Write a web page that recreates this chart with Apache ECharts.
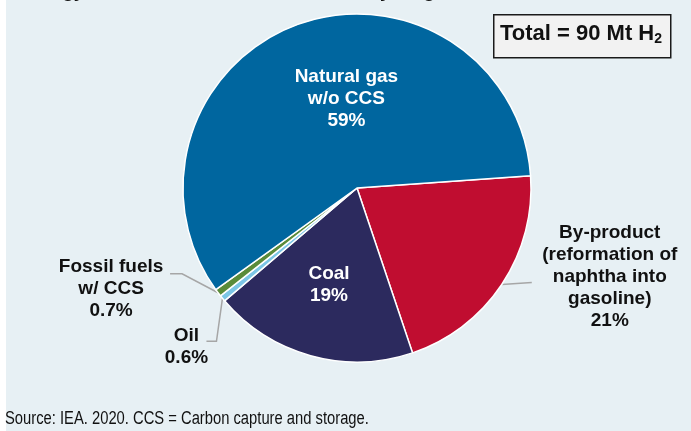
<!DOCTYPE html>
<html>
<head>
<meta charset="utf-8">
<script src="https://cdn.jsdelivr.net/npm/echarts@6/dist/echarts.min.js"></script>
<style>
  html, body { margin: 0; padding: 0; background: #fff; }
  #chart { width: 691px; height: 431px; }
</style>
</head>
<body>
<div id="chart"></div>
<script>
// data (share of 90 Mt H2)
const categories = ['By-product', 'Coal', 'Oil', 'Fossil fuels w/ CCS', 'Natural gas w/o CCS'];
const labelNames = ['By-product\n(reformation of\nnaphtha into\ngasoline)', 'Coal', 'Oil', 'Fossil fuels\nw/ CCS', 'Natural gas\nw/o CCS'];
const shares = [21, 19, 0.6, 0.7, 59];
const colors = ['#c00d30', '#2c2a5e', '#7cc6e6', '#5a8b3a', '#00669f'];
const insideLabels = ['Coal', 'Natural gas w/o CCS'];

var chartDom = document.getElementById('chart');
var myChart = echarts.init(chartDom, null, { renderer: 'canvas' });
var font = '"Liberation Sans", Arial, sans-serif';

var seriesData = [];
for (let i = 0; i < categories.length; i++) {
  var inside = insideLabels.indexOf(categories[i]) >= 0;
  seriesData.push({
    name: categories[i],
    value: shares[i],
    itemStyle: { color: colors[i] },
    label: {
      position: inside ? 'inside' : 'outside',
      color: inside ? '#ffffff' : '#111111'
    },
    labelLine: { show: !inside }
  });
}

// where the leader lines and outside labels sit, relative to the slice edge point
function placeLabel(params) {
  var name = categories[params.dataIndex];
  var pts = params.labelLinePoints;
  if (name === 'Natural gas w/o CCS') return { dx: 20, dy: -5 };
  if (name === 'Coal') return { dx: -4, dy: 10 };
  if (!pts) return {};
  var e = pts[0];
  if (name === 'By-product') {
    return {
      x: e[0] + 108, y: e[1] - 8, align: 'center', verticalAlign: 'middle',
      labelLinePoints: [e, [e[0] + 30, e[1] - 2], [e[0] + 30, e[1] - 2]]
    };
  }
  if (name === 'Fossil fuels w/ CCS') {
    return {
      x: e[0] - 107, y: e[1] - 4, align: 'center', verticalAlign: 'middle',
      labelLinePoints: [e, [e[0] - 36, e[1] - 19], [e[0] - 48, e[1] - 19]]
    };
  }
  if (name === 'Oil') {
    return {
      x: e[0] - 36, y: e[1] + 48, align: 'center', verticalAlign: 'middle',
      labelLinePoints: [e, [e[0] - 6, e[1] + 43], [e[0] - 16, e[1] + 43]]
    };
  }
  return {};
}

var option = {
  backgroundColor: '#e7f0f4',
  animation: false,
  graphic: [
    { type: 'rect', left: 0, top: 0, shape: { width: 6, height: 431 }, style: { fill: '#ffffff' }, z: 0 },
    {
      type: 'text', left: 20, top: -18,
      style: { text: 'Energy Sources of Annual Production by Origin', fill: '#111', font: 'bold 19px ' + font }
    },
    {
      type: 'rect', left: 493, top: 14,
      shape: { width: 177, height: 43 },
      style: { fill: '#f2f2f2', stroke: '#1a1a1a', lineWidth: 1.5 }
    },
    {
      type: 'text', left: 500, top: 23,
      style: {
        text: '{a|Total = 90 Mt H}{s|2}',
        rich: {
          a: { font: 'bold 22px ' + font, fill: '#111' },
          s: { font: 'bold 14px ' + font, fill: '#111', padding: [11, 0, 0, 0] }
        }
      }
    },
    {
      type: 'text', x: 5, y: 410, scaleX: 0.82,
      style: {
        text: 'Source: IEA. 2020. CCS = Carbon capture and storage.',
        fill: '#111', font: '18px ' + font
      }
    }
  ],
  series: [
    {
      type: 'pie',
      center: [357, 188],
      radius: [0, 174],
      startAngle: 4,
      clockwise: true,
      avoidLabelOverlap: false,
      itemStyle: { borderColor: '#ffffff', borderWidth: 1.5 },
      label: {
        formatter: function (p) { return labelNames[p.dataIndex] + '\n' + p.value + '%'; },
        fontFamily: font,
        fontWeight: 'bold',
        fontSize: 19,
        lineHeight: 22,
        align: 'center'
      },
      labelLine: { lineStyle: { color: '#a6a6a6', width: 1.5 } },
      labelLayout: placeLabel,
      data: seriesData
    }
  ]
};

option && myChart.setOption(option);
</script>
</body>
</html>
